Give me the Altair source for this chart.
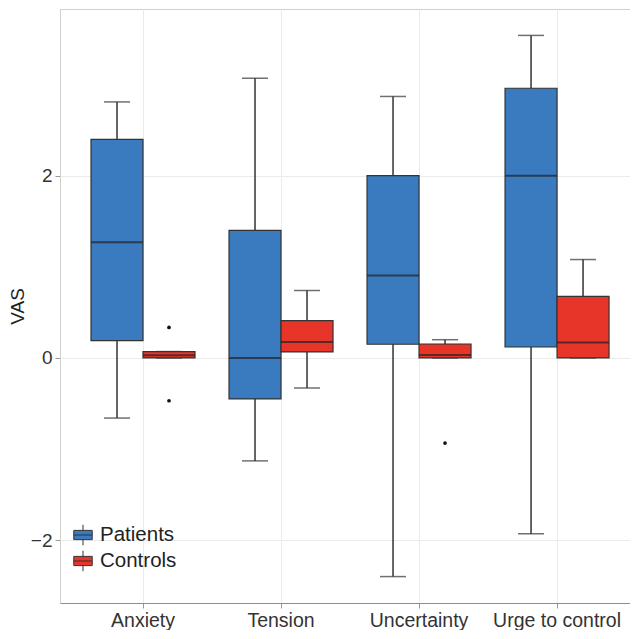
import altair as alt
import pandas as pd

categories = ["Anxiety", "Tension", "Uncertainty", "Urge to control"]
groups = ["Patients", "Controls"]

patients_lo = [-0.66, -1.13, -2.40, -1.93]
patients_q1 = [0.19, -0.45, 0.15, 0.12]
patients_med = [1.27, 0.0, 0.905, 2.0]
patients_q3 = [2.40, 1.40, 2.0, 2.96]
patients_hi = [2.81, 3.07, 2.87, 3.54]

controls_lo = [0.0, -0.33, 0.0, 0.0]
controls_q1 = [0.0, 0.066, 0.0, 0.0]
controls_med = [0.03, 0.175, 0.033, 0.17]
controls_q3 = [0.07, 0.41, 0.153, 0.675]
controls_hi = [0.07, 0.74, 0.2, 1.08]

outlier_cat = ["Anxiety", "Anxiety", "Uncertainty"]
outlier_group = ["Controls", "Controls", "Controls"]
outlier_val = [0.335, -0.47, -0.935]

colors = ["#3a7bbf", "#e8352a"]

rows = []
for g, lo, q1, med, q3, hi in [
    ("Patients", patients_lo, patients_q1, patients_med, patients_q3, patients_hi),
    ("Controls", controls_lo, controls_q1, controls_med, controls_q3, controls_hi),
]:
    for i, c in enumerate(categories):
        rows.append(dict(cat=c, group=g, lo=lo[i], q1=q1[i], med=med[i], q3=q3[i], hi=hi[i]))
df = pd.DataFrame(rows)
out_df = pd.DataFrame(dict(cat=outlier_cat, group=outlier_group, val=outlier_val))

FONT = "Liberation Sans"

x_enc = alt.X(
    "cat:N",
    sort=categories,
    scale=alt.Scale(domain=categories, paddingInner=0, paddingOuter=0.065, align=0.78),
    axis=alt.Axis(
        title=None, labelAngle=0, bandPosition=0.5, grid=True, gridColor="#ebebeb",
        tickColor="#999999", tickSize=5, domainColor="#8c8c8c", labelFontSize=19.5,
        labelColor="#333333", labelPadding=3, labelFont=FONT,
    ),
)
xo_enc = alt.XOffset(
    "group:N", sort=groups,
    scale=alt.Scale(domain=groups, paddingInner=0, paddingOuter=0.327),
)
y_scale = alt.Scale(domain=[-2.69, 3.83], nice=False, zero=False)
y_axis = alt.Axis(
    title="VAS", values=[-2, 0, 2], format="d", grid=True, gridColor="#ebebeb",
    tickColor="#999999", tickSize=5, domainColor="#d0d0d0", labelFontSize=19,
    labelColor="#333333", labelPadding=3, titleFontSize=19, titleFontWeight="normal",
    titleColor="#222222", titleX=-33, titleY=297, titleAngle=270, titleBaseline="bottom",
    titleAlign="center", labelFont=FONT, titleFont=FONT,
)

base = alt.Chart(df)

whisker = base.mark_rule(color="#333333", strokeWidth=1.5).encode(
    x=x_enc, xOffset=xo_enc,
    y=alt.Y("lo:Q", scale=y_scale, axis=y_axis), y2="hi:Q",
)
cap_lo = base.mark_tick(color="#333333", thickness=1.5, size=26, orient="horizontal").encode(
    x=x_enc, xOffset=xo_enc, y=alt.Y("lo:Q", scale=y_scale),
)
cap_hi = base.mark_tick(color="#333333", thickness=1.5, size=26, orient="horizontal").encode(
    x=x_enc, xOffset=xo_enc, y=alt.Y("hi:Q", scale=y_scale),
)
legend_path = "M-0.9,-0.45L0.9,-0.45L0.9,0.45L-0.9,0.45Z M0,-1L0,-0.45 M0,0.45L0,1 M-0.9,0L0.9,0"
box = base.mark_bar(stroke="#333333", strokeWidth=1.2, opacity=1).encode(
    x=x_enc, xOffset=xo_enc,
    y=alt.Y("q1:Q", scale=y_scale), y2="q3:Q",
    color=alt.Color(
        "group:N", sort=groups, scale=alt.Scale(domain=groups, range=colors),
        legend=alt.Legend(
            title=None, orient="none", legendX=12, legendY=515, symbolType=legend_path,
            symbolSize=420, symbolStrokeColor="#333333", symbolStrokeWidth=1,
            symbolOpacity=1, labelFontSize=20.5, labelColor="#222222", labelFont=FONT,
            rowPadding=0, labelOffset=6, padding=0,
        ),
    ),
)
median = base.mark_tick(color="#222222", thickness=2, size=52, orient="horizontal").encode(
    x=x_enc, xOffset=xo_enc, y=alt.Y("med:Q", scale=y_scale),
)
outliers = alt.Chart(out_df).mark_circle(color="#111111", size=14, opacity=1).encode(
    x=x_enc, xOffset=xo_enc, y=alt.Y("val:Q", scale=y_scale),
)

chart = alt.layer(whisker, cap_lo, cap_hi, box, median, outliers).properties(
    width=570, height=594,
    autosize=alt.AutoSizeParams(type="none"),
    padding={"left": 52, "top": 1, "right": 0, "bottom": 27},
    background="white",
).configure_view(stroke="#d0d0d0", strokeWidth=1)

chart.save("out.html", embed_options={"renderer": "svg", "actions": False})
